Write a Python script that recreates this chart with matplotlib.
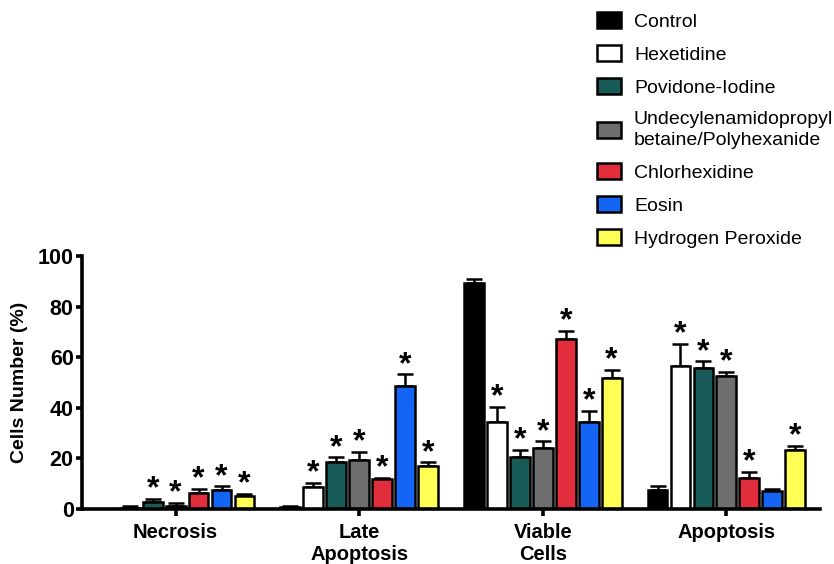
import matplotlib.pyplot as plt
import numpy as np

plt.rcParams['font.family'] = ['Liberation Sans', 'DejaVu Sans']

# Categories and groups
categorias = ['Necrosis', 'Late\nApoptosis', 'Viable\nCells', 'Apoptosis']
tratamientos = ['Control', 'Hexetidine', 'Povidone-Iodine',
                'Undecylenamidopropyl\nbetaine/Polyhexanide',
                'Chlorhexidine', 'Eosin', 'Hydrogen Peroxide']
colores = ['#000000', '#ffffff', '#185a58', '#6e6e6e', '#e22d3c', '#1565f5', '#ffff55']

# Mean values (rows: treatments, cols: categories)
control = [0.0, 0.8, 89.4, 7.6]
hexetidine = [0.2, 8.7, 34.3, 56.4]
povidone = [2.9, 18.5, 20.7, 55.6]
undecyl = [1.3, 19.2, 24.2, 52.7]
clorhex = [6.4, 11.7, 67.2, 12.3]
eosina = [7.6, 48.7, 34.3, 7.0]
peroxido = [5.3, 17.0, 51.9, 23.4]

# Error (SEM, upper only)
err_control = [0.0, 0.4, 1.4, 1.4]
err_hexetidine = [1.1, 1.7, 6.1, 8.9]
err_povidone = [1.0, 1.9, 2.6, 2.8]
err_undecyl = [1.2, 3.3, 2.6, 1.5]
err_clorhex = [1.6, 0.5, 3.3, 2.4]
err_eosina = [1.4, 4.5, 4.4, 0.8]
err_peroxido = [0.6, 1.5, 3.1, 1.5]

# Significance marks
sig_control = [False, False, False, False]
sig_hexetidine = [False, True, True, True]
sig_povidone = [True, True, True, True]
sig_undecyl = [True, True, True, True]
sig_clorhex = [True, True, True, True]
sig_eosina = [True, True, True, False]
sig_peroxido = [True, True, True, True]

valores = [control, hexetidine, povidone, undecyl, clorhex, eosina, peroxido]
errores = [err_control, err_hexetidine, err_povidone, err_undecyl,
           err_clorhex, err_eosina, err_peroxido]
signif = [sig_control, sig_hexetidine, sig_povidone, sig_undecyl,
          sig_clorhex, sig_eosina, sig_peroxido]

fig = plt.figure(figsize=(8.34, 5.64), dpi=100)
ax = fig.add_axes([82 / 834, 1 - 509 / 564, (820 - 82) / 834, (509 - 256) / 564])

x = np.arange(len(categorias))
paso = 0.125
ancho = 0.108

for i, (vals, errs, sigs) in enumerate(zip(valores, errores, signif)):
    pos = x + (i - 3) * paso
    ax.bar(pos, vals, width=ancho, color=colores[i], edgecolor='black',
           linewidth=1.8, label=tratamientos[i], zorder=2)
    ax.errorbar(pos, vals, yerr=[np.zeros(len(errs)), errs], fmt='none',
                ecolor='black', elinewidth=1.8, capsize=5.5, capthick=1.8, zorder=1)
    for p, v, e, s in zip(pos, vals, errs, sigs):
        if s:
            ax.annotate('*', (p, v + e), xytext=(0, -4), textcoords='offset points',
                        ha='center', va='bottom', fontsize=23, fontweight='bold')

ax.set_xlim(-0.51, 3.51)
ax.set_ylim(0, 100)
ax.set_yticks(np.arange(0, 101, 20))
ax.set_xticks(x)
ax.set_xticklabels(categorias)
ax.set_ylabel('Cells Number (%)', fontsize=14, fontweight='bold', labelpad=7)

for s in ['top', 'right']:
    ax.spines[s].set_visible(False)
for s in ['left', 'bottom']:
    ax.spines[s].set_linewidth(2.6)

ax.tick_params(axis='y', width=2.6, length=4.5, labelsize=15.5, pad=1.5)
ax.tick_params(axis='x', width=2.6, length=5, labelsize=14.5, pad=5)
for label in ax.get_xticklabels() + ax.get_yticklabels():
    label.set_fontweight('bold')

fig.legend(loc='upper left', bbox_to_anchor=(597 / 834, 1 - 12 / 564),
           frameon=False, fontsize=14, handlelength=1.25, handleheight=0.9,
           handletextpad=0.65, labelspacing=0.73, borderaxespad=0, borderpad=0)
for t in fig.legends[0].get_texts():
    t.set_linespacing(1.3)

plt.savefig('out.png', dpi=100)
